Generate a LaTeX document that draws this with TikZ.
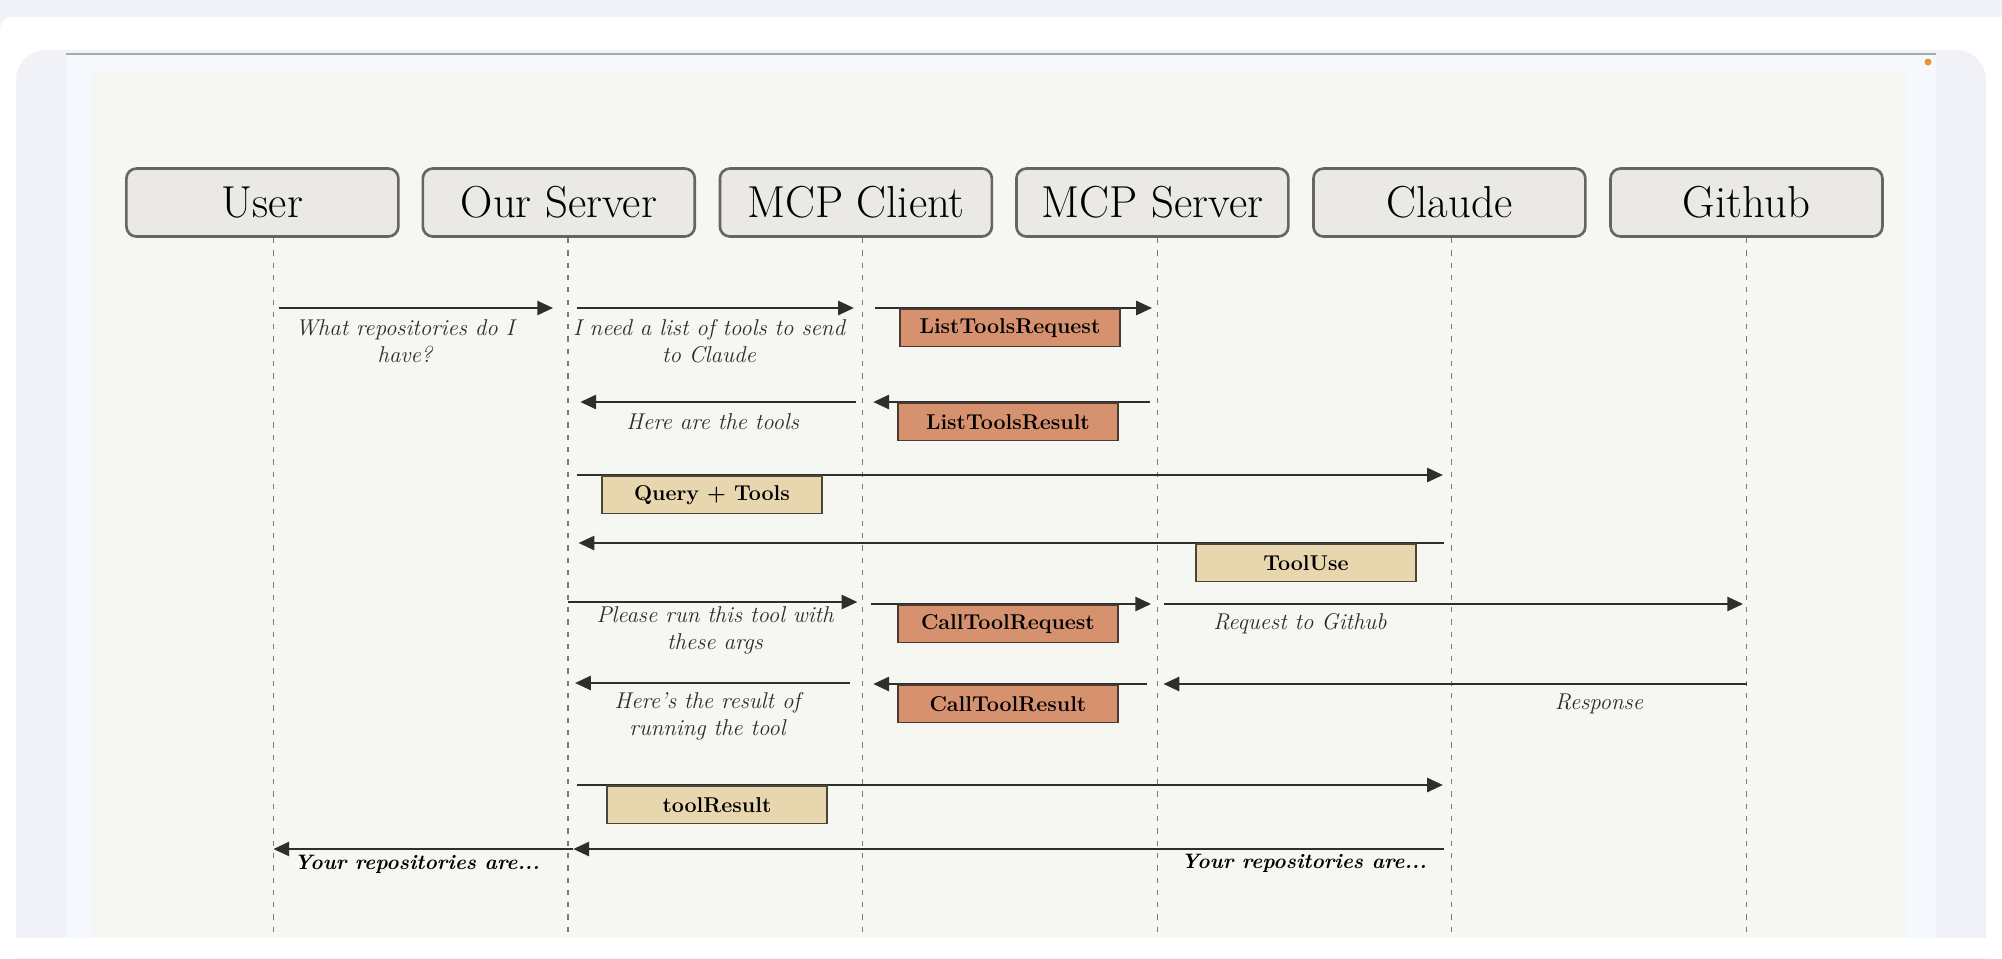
\documentclass[tikz,border=0pt]{standalone}
\usepackage{tikz}
\usetikzlibrary{arrows.meta}
\usetikzlibrary{calc}
\usetikzlibrary{positioning}
\definecolor{pagebg}{HTML}{F1F2F7}
\definecolor{panelblue}{HTML}{F5F8FC}
\definecolor{panelfill}{HTML}{F6F7F3}
\definecolor{panelline}{HTML}{A7ABB0}
\definecolor{dotorange}{HTML}{E8962E}
\definecolor{actorfill}{HTML}{EBE9E5}
\definecolor{actorline}{HTML}{66665F}
\definecolor{lifegray}{HTML}{7A7A78}
\definecolor{msggray}{HTML}{2E2E2E}
\definecolor{reqfill}{HTML}{D6916E}
\definecolor{reqline}{HTML}{4B3A30}
\definecolor{llmfill}{HTML}{E8D6AF}
\definecolor{llmline}{HTML}{4A463C}
\definecolor{notegray}{HTML}{2C2C2C}
\tikzstyle{actor}=[shape=rectangle,draw=actorline,fill=actorfill,line width=1.5pt,rounded corners=0.2cm,minimum width=5.44cm,minimum height=1.36cm,inner sep=0pt,font=\fontsize{25.5}{30}\selectfont]
\tikzstyle{life}=[draw=lifegray,line width=0.8pt,dash pattern=on 3pt off 4pt]
\tikzstyle{msg}=[draw=msggray,->,>={Triangle[length=9pt,width=8pt]},line width=1.4pt,shorten <=5pt,shorten >=5pt]
\tikzstyle{req}=[shape=rectangle,draw=reqline,fill=reqfill,line width=1.1pt,minimum width=4.4cm,minimum height=0.75cm,inner sep=0pt,anchor=north west,font=\fontsize{12.2}{14}\selectfont\bfseries]
\tikzstyle{llm}=[req,draw=llmline,fill=llmfill]
\tikzstyle{note}=[align=center,inner sep=0pt,text=notegray,font=\fontsize{13}{15.4}\selectfont\itshape]
\tikzstyle{reply}=[note,text=black,font=\fontsize{11.9}{15.4}\selectfont\bfseries\itshape]

\begin{document}
\begin{tikzpicture}[x=0.02cm,y=-0.02cm]
		\useasboundingbox (0,0) rectangle (2002,958);
		% screen around the diagram
		\fill[pagebg] (0,0) rectangle (2002,958);
		\fill[white,rounded corners=0.24cm] (0,17) rectangle (2060,1010);
		\fill[pagebg,rounded corners=0.6cm] (16,50) rectangle (1986,1010);
		\fill[white] (0,938) rectangle (2002,958);
		\fill[panelblue] (66,54) rectangle (1936,938);
		\draw[panelline,line width=1.2pt] (66,54) -- (1936,54);
		\fill[panelfill] (92,70) rectangle (1906,938);
		\fill[dotorange] (1928,62) circle (0.07cm);
%
		\node[actor] (user) at (262.4,202.5) {User};
		\node[actor] (srv) at (558.8,202.5) {Our Server};
		\node[actor] (mcpc) at (855.9,202.5) {MCP Client};
		\node[actor] (mcps) at (1152.4,202.5) {MCP Server};
		\node[actor] (claude) at (1449.4,202.5) {Claude};
		\node[actor] (github) at (1746.5,202.5) {Github};
%
		\coordinate (user-l) at (273.4,238);
		\coordinate (srv-l) at (568,238);
		\coordinate (mcpc-l) at (862.7,238);
		\coordinate (mcps-l) at (1157.3,238);
		\coordinate (claude-l) at (1451.7,238);
		\coordinate (github-l) at (1746.6,238);
		\coordinate (user-e) at (273.4,938);
		\coordinate (srv-e) at (568,938);
		\coordinate (mcpc-e) at (862.7,938);
		\coordinate (mcps-e) at (1157.3,938);
		\coordinate (claude-e) at (1451.7,938);
		\coordinate (github-e) at (1746.6,938);
		\draw[life] (user-l) -- (user-e);
		\draw[life] (srv-l) -- (srv-e);
		\draw[life] (mcpc-l) -- (mcpc-e);
		\draw[life] (mcps-l) -- (mcps-e);
		\draw[life] (claude-l) -- (claude-e);
		\draw[life] (github-l) -- (github-e);
%
		\draw[msg,shorten <=3pt,shorten >=8.5pt] (user-l |- 0,308) -- (srv-l |- 0,308);
		\node[note] (ask) at (405,341.5) {What repositories do I\\have?};
		\draw[msg] (srv-l |- 0,308) -- (mcpc-l |- 0,308);
		\node[note] (need) at (709,341.5) {I need a list of tools to send\\to Claude};
		\draw[msg,shorten <=7pt,shorten >=3pt] (mcpc-l |- 0,308) -- (mcps-l |- 0,308);
		\node[req] (ltreq) at (899,308) {ListToolsRequest};
%
		\draw[msg,shorten <=4pt,shorten >=7pt] (mcpc-l |- 0,402) -- (srv-l |- 0,402);
		\node[note] (here) at (712.7,421.7) {Here are the tools};
		\draw[msg,shorten <=4pt,shorten >=6pt] (mcps-l |- 0,402) -- (mcpc-l |- 0,402);
		\node[req] (ltres) at (897,402) {ListToolsResult};
%
		\draw[msg] (srv-l |- 0,475) -- (claude-l |- 0,475);
		\node[llm] (query) at (601,475) {Query + Tools};
		\draw[msg,shorten <=4.5pt,shorten >=6pt] (claude-l |- 0,543) -- (srv-l |- 0,543);
		\node[llm] (tooluse) at (1195,543) {ToolUse};
%
		\draw[msg,shorten <=0pt,shorten >=3pt] (srv-l |- 0,602) -- (mcpc-l |- 0,602);
		\node[note] (please) at (715,630) {Please run this tool with\\these args};
		\draw[msg,shorten <=5pt,shorten >=3.5pt] (mcpc-l |- 0,604) -- (mcps-l |- 0,604);
		\node[req] (ctreq) at (897,604) {CallToolRequest};
		\draw[msg,shorten <=4pt,shorten >=2pt] (mcps-l |- 0,604) -- (github-l |- 0,604);
		\node[note] (togh) at (1300,624) {Request to Github};
%
		\draw[msg,shorten <=7pt,shorten >=4pt] (mcpc-l |- 0,683) -- (srv-l |- 0,683);
		\node[note] (result) at (707.5,716.7) {Here’s the result of\\running the tool};
		\draw[msg,shorten <=6pt,shorten >=6pt] (mcps-l |- 0,684) -- (mcpc-l |- 0,684);
		\node[req] (ctres) at (897,684) {CallToolResult};
		\draw[msg,shorten <=0pt,shorten >=3.5pt] (github-l |- 0,684) -- (mcps-l |- 0,684);
		\node[note] (resp) at (1599,704) {Response};
%
		\draw[msg] (srv-l |- 0,785) -- (claude-l |- 0,785);
		\node[llm] (toolres) at (606,785) {toolResult};
		\draw[msg,shorten <=4.5pt,shorten >=3pt] (claude-l |- 0,849) -- (srv-l |- 0,849);
		\node[reply] (ans2) at (1304,863.5) {Your repositories are...};
		\draw[msg,shorten <=-3pt,shorten >=0pt] (srv-l |- 0,849) -- (user-l |- 0,849);
		\node[reply] (ans1) at (417,864) {Your repositories are...};
\end{tikzpicture}
\end{document}
